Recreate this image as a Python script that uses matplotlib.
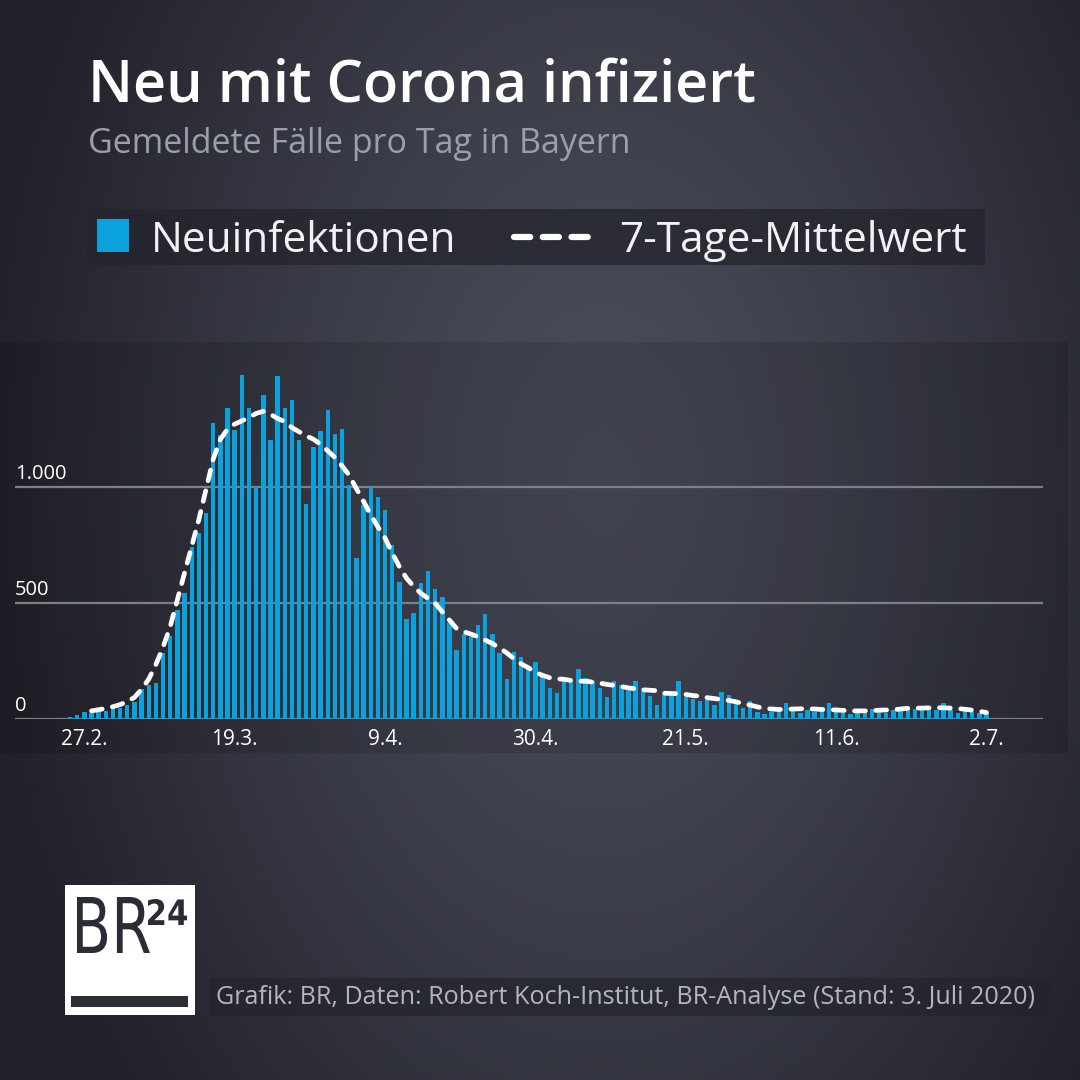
import numpy as np
import pandas as pd
import matplotlib
matplotlib.use("Agg")
import matplotlib.pyplot as plt
import matplotlib.dates as mdates
from matplotlib.patches import Rectangle, PathPatch
from matplotlib.lines import Line2D
from matplotlib.textpath import TextPath
from matplotlib.font_manager import FontProperties
from matplotlib.transforms import Affine2D, blended_transform_factory

plt.rcParams['font.family'] = ['Open Sans', 'DejaVu Sans']

# daily new cases in Bavaria, 25.2. - 2.7.2020
dates = pd.date_range('2020-02-25', '2020-07-02', freq='D')
cases = [10, 17, 29, 27, 29, 33, 60, 49, 60, 75,
         129, 147, 157, 283, 356, 468, 543, 741, 800, 886,
         1275, 1223, 1339, 1246, 1483, 1341, 1000, 1396, 1202, 1480,
         1339, 1376, 1202, 928, 1173, 1241, 1334, 1228, 1251, 1007,
         693, 921, 1000, 957, 903, 750, 592, 429, 455, 585,
         637, 559, 527, 412, 296, 368, 354, 405, 451, 366,
         286, 173, 290, 267, 221, 244, 192, 134, 113, 163,
         163, 217, 178, 163, 134, 94, 163, 146, 124, 163,
         134, 97, 60, 111, 115, 162, 93, 85, 76, 82,
         60, 116, 105, 76, 46, 79, 32, 22, 32, 46,
         68, 42, 24, 39, 32, 42, 70, 46, 27, 20,
         39, 39, 42, 36, 24, 39, 49, 39, 42, 42,
         49, 39, 68, 39, 27, 39, 32, 24, 32]

# 7-day mean as drawn (starts on 28.2.)
avg_dates = pd.date_range('2020-02-28', '2020-07-02', freq='D')
avg = [35, 40, 46, 53, 62, 75, 93, 128, 172, 235,
       310, 399, 514, 630, 745, 860, 990, 1120, 1206, 1249,
       1271, 1285, 1300, 1317, 1326, 1314, 1295, 1282, 1256, 1238,
       1220, 1206, 1184, 1156, 1127, 1091, 1050, 993, 938, 880,
       828, 780, 715, 657, 607, 571, 542, 520, 499, 462,
       426, 390, 376, 366, 354, 340, 325, 306, 285, 260,
       238, 221, 202, 188, 178, 173, 171, 166, 163, 163,
       159, 155, 149, 145, 140, 134, 130, 126, 124, 122,
       111, 110, 109, 106, 101, 98, 92, 88, 84, 80,
       74, 67, 60, 52, 46, 43, 41, 42, 43, 44,
       44, 43, 41, 40, 39, 37, 35, 35, 35, 36,
       38, 39, 40, 43, 46, 47, 47, 48, 49, 48,
       47, 45, 42, 38, 33, 28]

tick_dates = pd.to_datetime(['2020-02-27', '2020-03-19', '2020-04-09', '2020-04-30',
                             '2020-05-21', '2020-06-11', '2020-07-02'])
y_ticks = [0, 500, 1000]
y_labels = ['0', '500', '1.000']

title = 'Neu mit Corona infiziert'
subtitle = 'Gemeldete Fälle pro Tag in Bayern'
source = 'Grafik: BR, Daten: Robert Koch-Institut, BR-Analyse (Stand: 3. Juli 2020)'

BLUE = '#0aa1dd'
W = H = 1080

fig = plt.figure(figsize=(10.8, 10.8), dpi=100)

# background in pixel coordinates
bg = fig.add_axes([0, 0, 1, 1], zorder=0)
bg.set_xlim(0, W)
bg.set_ylim(H, 0)
bg.axis('off')
yy, xx = np.mgrid[0:H:4, 0:W:4]
r = np.sqrt(((xx - 600) / 620.0) ** 2 + ((yy - 480) / 950.0) ** 2)
r = np.clip(r, 0, 1)
c0 = np.array([0x4b, 0x4d, 0x5b]) / 255.0
c1 = np.array([0x20, 0x21, 0x29]) / 255.0
img = c0[None, None, :] * (1 - r[..., None] ** 1.3) + c1[None, None, :] * (r[..., None] ** 1.3)
bg.imshow(img, extent=[0, W, H, 0], aspect='auto', interpolation='bilinear')

# chart panel
bg.add_patch(Rectangle((0, 342), 1068, 411, color='black', alpha=0.12, lw=0))

# titles
bg.text(88, 101, title, color='white', fontsize=41.5, fontweight='semibold', va='baseline')
bg.text(88, 153, subtitle, color='#9c9eac', fontsize=24.5, va='baseline')

# legend
bg.add_patch(Rectangle((87, 209), 898, 56, color='#23242d', alpha=0.75, lw=0))
bg.add_patch(Rectangle((97, 219), 32, 33, color=BLUE, lw=0))
bg.text(151, 252, 'Neuinfektionen', color='#f2f2f2', fontsize=30.5, va='baseline')
bg.add_line(Line2D([514, 590], [237, 237], color='white', lw=4.5,
                   dashes=(2.6, 2.0), dash_capstyle='round'))
bg.text(619, 252, '7-Tage-Mittelwert', color='#f2f2f2', fontsize=30.5, va='baseline')

# logo
bg.add_patch(Rectangle((65, 885), 130, 130, color='white', lw=0))
bg.add_patch(Rectangle((71, 996), 117, 11, color='#2a2c36', lw=0))


def fit_text(s, x0, y0, x1, y1, weight):
    prop = FontProperties(family='DejaVu Sans', weight=weight)
    tp = TextPath((0, 0), s, size=100, prop=prop)
    bb = tp.get_extents()
    sx = (x1 - x0) / bb.width
    sy = (y1 - y0) / bb.height
    tr = Affine2D().translate(-bb.x0, -bb.y0).scale(sx, -sy).translate(x0, y1)
    bg.add_patch(PathPatch(tp, transform=tr + bg.transData, color='#2a2c36', lw=0))


fit_text('BR', 77, 897, 150, 953, 'normal')
fit_text('24', 148, 899, 187, 925, 'bold')

# source
bg.add_patch(Rectangle((210, 978), 841, 38, color='#23242d', alpha=0.7, lw=0))
bg.text(216, 1004, source, color='#b3b5c0', fontsize=18.1, va='baseline')

# chart
ax = fig.add_axes([15 / W, 1 - 719 / H, 1028 / W, 369 / H], zorder=1)
ax.patch.set_alpha(0)
day_w = 1.0 / 7.16
x0 = mdates.date2num(dates[0])
ax.set_xlim(x0 - 55 * day_w, x0 + 973 * day_w)
ax.set_ylim(0, 369 / 0.232)

for v in y_ticks:
    ax.axhline(v, color='#7d7f8a', lw=1.6, zorder=1)
ax.bar(dates, cases, width=0.62, color=BLUE, zorder=2)
ax.plot(avg_dates, avg, color='white', lw=3.4, dashes=(2.3, 2.2),
        dash_capstyle='round', solid_capstyle='round', zorder=3)

for sp in ax.spines.values():
    sp.set_visible(False)
ax.set_yticks([])
ax.set_xticks(tick_dates)
ax.set_xticklabels([f'{d.day}.{d.month}.' for d in tick_dates])
ax.tick_params(axis='x', length=0, pad=7, labelsize=15, labelcolor='white')

trans = blended_transform_factory(ax.transAxes, ax.transData)
for v, lab in zip(y_ticks, y_labels):
    ax.text(0.0, v + 14, lab, transform=trans, color='white', fontsize=14.5,
            va='bottom', ha='left')

fig.savefig('out.png', dpi=100)
